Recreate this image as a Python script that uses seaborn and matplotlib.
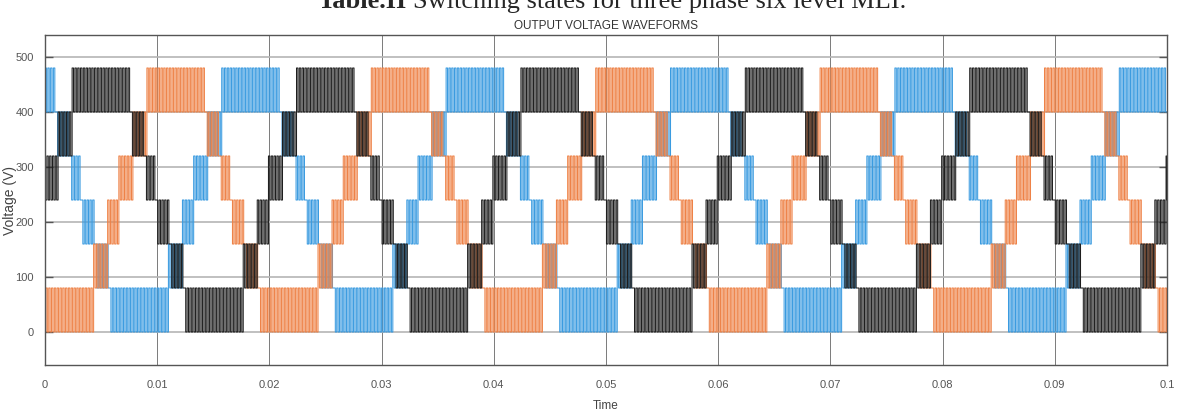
import numpy as np
import pandas as pd
import matplotlib
matplotlib.use("Agg")
import matplotlib.pyplot as plt
import seaborn as sns

# ---------------- data ----------------
levels = [0, 80, 160, 240, 320, 400, 480]                  # V, the seven output levels
# band changes over one 20 ms cycle of the black phase (s)
cycle_edges = [0.0, 0.0011, 0.0023, 0.0077, 0.0089, 0.0100,
               0.0111, 0.0123, 0.0177, 0.0189, 0.0200]
# index of the lower level of the band that is switched in each interval
cycle_bands = [3, 4, 5, 4, 3, 2, 1, 0, 1, 2]
phase_order = ["blue", "orange", "black"]                   # drawing order
phase_delay = [0.01333, 0.00667, 0.0]                       # s, lag of each phase
phase_colors = ["#3A9BE0", "#EE8247", "#1E1E1E"]
switch_period = 0.00025                                      # s, PWM switching period
sim_end = 0.1                                                # s
x_ticks = [0, 0.01, 0.02, 0.03, 0.04, 0.05, 0.06, 0.07, 0.08, 0.09, 0.1]
x_tick_labels = ["0", "0.01", "0.02", "0.03", "0.04", "0.05",
                 "0.06", "0.07", "0.08", "0.09", "0.1"]
y_ticks = [0, 100, 200, 300, 400, 500]
y_tick_labels = ["0", "100", "200", "300", "400", "500"]
# -------------------------------------------------------------

cycle_len = cycle_edges[-1]
rows = []
for i, (name, delay) in enumerate(zip(phase_order, phase_delay)):
    offset = switch_period * i / len(phase_order)
    k = -1
    while True:
        t0 = offset + k * switch_period
        if t0 >= sim_end:
            break
        tc = (t0 + switch_period / 2 - delay) % cycle_len
        j = int(np.searchsorted(cycle_edges, tc, side="right")) - 1
        j = min(max(j, 0), len(cycle_bands) - 1)
        b = cycle_bands[j]
        lo, hi = levels[b], levels[b + 1]
        for tt, vv in ((t0, hi), (t0 + switch_period / 2, lo)):
            rows.append((name, min(max(tt, 0.0), sim_end), vv))
        k += 1
    rows.append((name, sim_end, rows[-1][2]))
df = pd.DataFrame(rows, columns=["phase", "time", "voltage"])

sns.set_style("white")
plt.rcParams["font.family"] = ["Liberation Sans Narrow", "Liberation Sans", "DejaVu Sans"]

fig = plt.figure(figsize=(11.77, 4.12), dpi=100)
ax = fig.add_axes([45 / 1177, 1 - 365 / 412, 1122 / 1177, 330 / 412])

sns.lineplot(data=df, x="time", y="voltage", hue="phase", hue_order=phase_order,
             palette=phase_colors, estimator=None, sort=False, drawstyle="steps-post",
             linewidth=0.75, legend=False, ax=ax)

ax.set_xlim(0, sim_end)
ax.set_ylim(-60, 540)
ax.set_xticks(x_ticks)
ax.set_xticklabels(x_tick_labels)
ax.set_yticks(y_ticks)
ax.set_yticklabels(y_tick_labels)
ax.grid(True, axis="y", color="#b5b5b5", linewidth=1.2)
ax.grid(True, axis="x", color="#7a7a7a", linewidth=0.7)
ax.set_axisbelow(True)
ax.tick_params(axis="both", direction="in", length=6, width=1.0, color="#555555",
               labelsize=8, labelcolor="#555555", left=True, right=True,
               bottom=False, top=False)
ax.tick_params(axis="x", pad=11)
ax.tick_params(axis="y", pad=8)
for s in ax.spines.values():
    s.set_color("#555555")
    s.set_linewidth(1.0)

ax.set_xlabel("Time", fontsize=8.5, color="#444444", labelpad=7)
ax.set_ylabel("Voltage (V)", fontsize=10, color="#444444")
ax.yaxis.set_label_coords(-28 / 1122, 0.5)
ax.set_title("OUTPUT VOLTAGE WAVEFORMS", fontsize=8.5, color="#333333", pad=4)

# caption of the page above the figure (cut by the top edge as in the source)
t1 = fig.text(318 / 1177, 1 - 8 / 412, "Table.II", fontsize=19, fontweight="bold",
              family="Liberation Serif", va="baseline", ha="left")
fig.canvas.draw()
bb = t1.get_window_extent(renderer=fig.canvas.get_renderer())
fig.text((bb.x1 + 6) / 1177, 1 - 8 / 412, "Switching states for three phase six level MLI.",
         fontsize=19, family="Liberation Serif", va="baseline", ha="left")

fig.savefig("out.png", dpi=100)
